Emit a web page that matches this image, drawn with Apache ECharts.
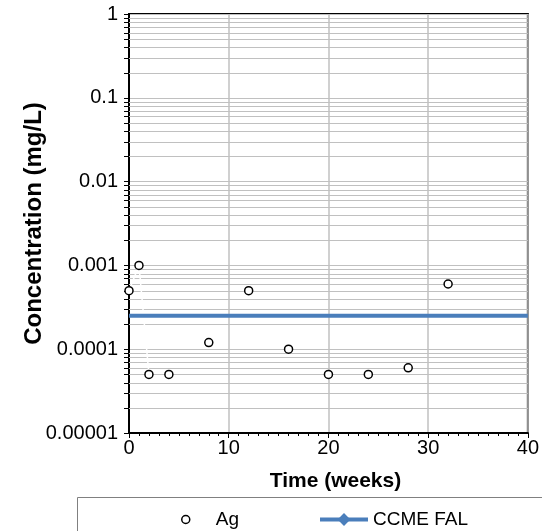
<!DOCTYPE html>
<html>
<head>
<meta charset="utf-8">
<script src="https://cdn.jsdelivr.net/npm/echarts@6/dist/echarts.min.js"></script>
<style>
html,body{margin:0;padding:0;background:#fff;}
#chart{width:542px;height:531px;}
</style>
</head>
<body>
<div id="chart"></div>
<script>
// ---- data ----
const agTimes = [0, 1, 2, 4, 8, 12, 16, 20, 24, 28, 32];
const agValues = [0.0005, 0.001, 0.00005, 0.00005, 0.00012, 0.0005, 0.0001, 0.00005, 0.00005, 0.00006, 0.0006];
const falTimes = [0, 40];
const falValues = [0.00025, 0.00025];
const yTickLabels = ['0.00001', '0.0001', '0.001', '0.01', '0.1', '1'];
const xTickLabels = ['0', '10', '20', '30', '40'];
const seriesNames = ['Ag', 'CCME FAL'];

// minor grid values (2..9 x each decade) for the log axis
const decades = [0.00001, 0.0001, 0.001, 0.01, 0.1];
const multipliers = [2, 3, 4, 5, 6, 7, 8, 9];
const minorValues = [];
decades.forEach(d => multipliers.forEach(m => minorValues.push(+(d * m).toPrecision(3))));

const FONT = 'Liberation Sans, Arial, sans-serif';
const chart = echarts.init(document.getElementById('chart'), null, {renderer: 'canvas'});
const legendText = {fontFamily: FONT, fontSize: 19, color: '#000'};

const option = {
  animation: false,
  backgroundColor: '#fff',
  grid: {left: 129, right: 14, top: 14, bottom: 98, show: true, borderColor: '#000', borderWidth: 2, backgroundColor: 'transparent'},
  graphic: [{
    type: 'rect', left: 77, top: 497, z: 0,
    shape: {width: 480, height: 50},
    style: {fill: '#fff', stroke: '#808080', lineWidth: 1}
  }],
  legend: [
    {
      left: 176, top: 505, itemWidth: 50, itemHeight: 8, selectedMode: false, textStyle: legendText,
      data: [{name: seriesNames[0], icon: 'circle', itemStyle: {color: '#fff', borderColor: '#000', borderWidth: 1.5}}]
    },
    {
      left: 313, top: 505, itemWidth: 48, itemHeight: 16, itemGap: 0, selectedMode: false, textStyle: legendText,
      data: [{name: seriesNames[1], lineStyle: {width: 4, color: '#4a7ebb'}, itemStyle: {color: '#4a7ebb'}}]
    }
  ],
  xAxis: {
    type: 'value', min: 0, max: 40, interval: 10,
    name: 'Time (weeks)', nameLocation: 'middle', nameGap: 38, nameMoveOverlap: false,
    nameTextStyle: {fontFamily: FONT, fontSize: 21, fontWeight: 'bold', color: '#000', padding: [0, 0, 0, 14]},
    axisLine: {lineStyle: {color: '#000', width: 2}},
    axisTick: {show: true, length: 5, lineStyle: {color: '#000', width: 1}},
    minorTick: {show: true, splitNumber: 10, length: 3, lineStyle: {color: '#000', width: 1}},
    axisLabel: {fontFamily: FONT, fontSize: 20, color: '#000', margin: 5,
      formatter: v => xTickLabels[Math.round(v / 10)]},
    splitLine: {show: true, lineStyle: {color: '#c0c0c0', width: 1.5}}
  },
  yAxis: {
    type: 'log', logBase: 10, min: 0.00001, max: 1,
    name: 'Concentration (mg/L)', nameLocation: 'middle', nameGap: 83, nameMoveOverlap: false,
    nameTextStyle: {fontFamily: FONT, fontSize: 24, fontWeight: 'bold', color: '#000'},
    axisLine: {show: true, lineStyle: {color: '#000', width: 2}},
    axisTick: {show: true, length: 5, lineStyle: {color: '#000', width: 1}},
    axisLabel: {fontFamily: FONT, fontSize: 20, color: '#000', margin: 11,
      formatter: v => yTickLabels[Math.round(Math.log10(v)) + 5]},
    splitLine: {show: true, lineStyle: {color: '#c0c0c0', width: 1}}
  },
  series: [
    {
      name: 'minorGrid', type: 'custom', silent: true, z: 1, clip: false,
      data: minorValues.map(v => [0, v]),
      encode: {x: 0, y: 1},
      renderItem: (params, api) => {
        const v = api.value(1);
        const a = api.coord([0, v]);
        const b = api.coord([40, v]);
        const y = Math.round(a[1]) + 0.5;
        return {type: 'group', children: [
          {type: 'line', shape: {x1: a[0], y1: y, x2: b[0], y2: y}, style: {stroke: '#c0c0c0', lineWidth: 1}},
          {type: 'line', shape: {x1: a[0] - 5, y1: y, x2: a[0], y2: y}, style: {stroke: '#000', lineWidth: 1}}
        ]};
      }
    },
    {
      name: 'agTrace', type: 'line', silent: true, z: 2, symbol: 'none',
      data: agTimes.slice(0, 3).map((t, i) => [t, agValues[i]]),
      lineStyle: {color: '#ffffff', width: 1.5}
    },
    {
      name: seriesNames[1], type: 'line', z: 3, symbol: 'diamond', symbolSize: 10, showSymbol: false,
      data: falTimes.map((t, i) => [t, falValues[i]]),
      itemStyle: {color: '#4a7ebb'},
      lineStyle: {color: '#4a7ebb', width: 4}
    },
    {
      name: seriesNames[0], type: 'scatter', z: 4, symbol: 'circle', symbolSize: 8,
      data: agTimes.map((t, i) => [t, agValues[i]]),
      itemStyle: {color: '#fff', borderColor: '#000', borderWidth: 1.5, opacity: 1}
    }
  ]
};
chart.setOption(option);
</script>
</body>
</html>
